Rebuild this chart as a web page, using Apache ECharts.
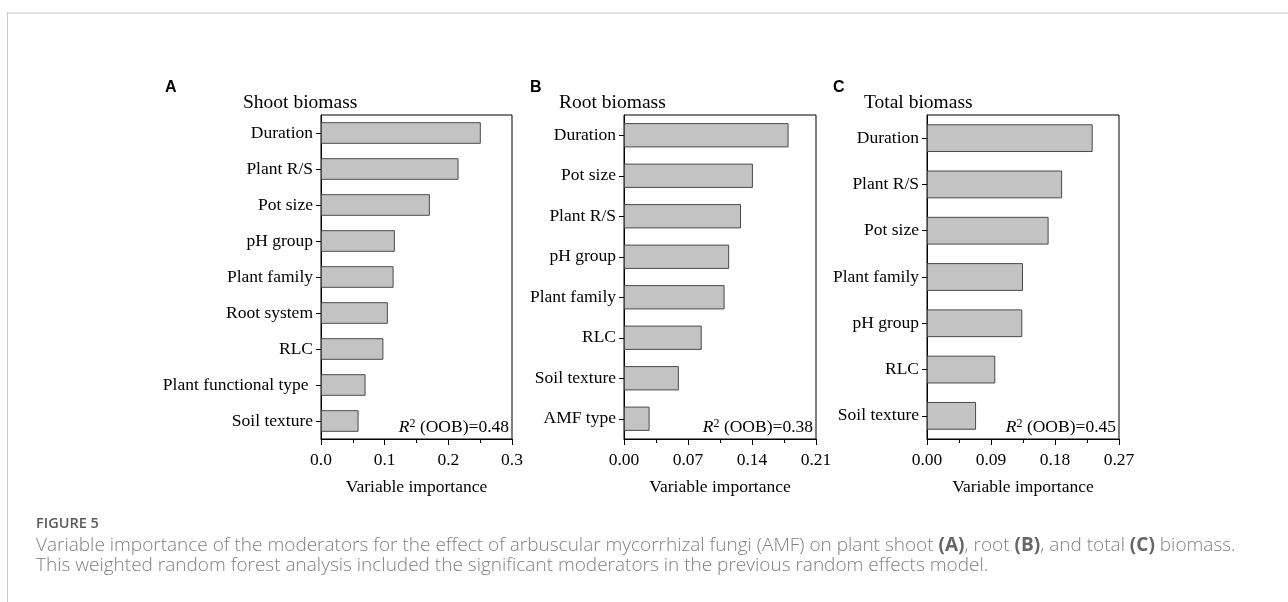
<!DOCTYPE html>
<html>
<head>
<meta charset="utf-8">
<script src="https://cdn.jsdelivr.net/npm/echarts@6/dist/echarts.min.js"></script>
<style>
html,body{margin:0;padding:0;background:#fff;}
#c{width:1288px;height:602px;}
</style>
</head>
<body>
<div id="c"></div>
<script>
// ---- data ----
const shootCats = ["Duration","Plant R/S","Pot size","pH group","Plant family","Root system","RLC","Plant functional type ","Soil texture"];
const shootVals = [0.251,0.216,0.171,0.116,0.114,0.105,0.098,0.070,0.059];
const rootCats = ["Duration","Pot size","Plant R/S","pH group","Plant family","RLC","Soil texture","AMF type"];
const rootVals = [0.180,0.141,0.128,0.115,0.110,0.085,0.060,0.028];
const totalCats = ["Duration","Plant R/S","Pot size","Plant family","pH group","RLC","Soil texture"];
const totalVals = [0.233,0.190,0.171,0.135,0.134,0.096,0.069];
const panelTitles = ["Shoot biomass","Root biomass","Total biomass"];
const panelLetters = ["A","B","C"];
const r2Values = ["0.48","0.38","0.45"];
const xMax = [0.3,0.21,0.27];
const xInterval = [0.1,0.07,0.09];
const xDecimals = [1,2,2];
const xName = "Variable importance";
const figLabel = "FIGURE 5";
const captionLines = [
  "Variable importance of the moderators for the effect of arbuscular mycorrhizal fungi (AMF) on plant shoot ",
  "This weighted random forest analysis included the significant moderators in the previous random effects model."
];

const serif = "'Liberation Serif','DejaVu Serif',serif";
const grids = [
  {left:321, top:115, width:191, height:324},
  {left:624, top:115, width:192, height:324},
  {left:927, top:115, width:192, height:324}
];
const cats = [shootCats, rootCats, totalCats];
const vals = [shootVals, rootVals, totalVals];

const chart = echarts.init(document.getElementById('c'), null, {renderer:'canvas'});

const option = {
  animation:false,
  backgroundColor:'#fff',
  grid: grids.map(g => Object.assign({show:true, borderColor:'#000', borderWidth:1, backgroundColor:'transparent'}, g)),
  xAxis: grids.map((g,i) => ({
    type:'value', gridIndex:i, min:0, max:xMax[i], interval:xInterval[i],
    axisLine:{show:true, lineStyle:{color:'#000', width:1}},
    axisTick:{show:true, length:6, lineStyle:{color:'#000'}},
    minorTick:{show:true, splitNumber:2, length:4, lineStyle:{color:'#000'}},
    splitLine:{show:false},
    axisLabel:{color:'#000', fontFamily:serif, fontSize:17.5, margin:12,
      formatter: v => v.toFixed(xDecimals[i])},
    name:xName, nameLocation:'middle', nameGap:39,
    nameTextStyle:{color:'#000', fontFamily:serif, fontSize:17.5}
  })),
  yAxis: grids.map((g,i) => ({
    type:'category', gridIndex:i, data:cats[i], inverse:true,
    axisLine:{show:true, lineStyle:{color:'#000', width:1}},
    axisTick:{show:true, length:5, alignWithLabel:true, lineStyle:{color:'#000'}},
    axisLabel:{color:'#000', fontFamily:serif, fontSize:17.5, margin:8},
    splitLine:{show:false}
  })),
  series: grids.map((g,i) => ({
    type:'bar', xAxisIndex:i, yAxisIndex:i, data:vals[i], barWidth:'60%',
    itemStyle:{color:'#c3c3c3', borderColor:'#4a4a4a', borderWidth:1}
  })),
  graphic: []
};

const G = option.graphic;
// page frame
G.push({type:'rect', shape:{x:7, y:12, width:1281, height:2}, style:{fill:'#e2e2e2'}, silent:true});
G.push({type:'rect', shape:{x:7, y:12, width:1, height:590}, style:{fill:'#c8c8c8'}, silent:true});

const titleX = [243, 559, 864];
const letterX = [165, 530, 833];
grids.forEach((g,i) => {
  G.push({type:'text', x:titleX[i], y:103, style:{text:panelTitles[i], fontFamily:serif, fontSize:19.5, fill:'#000', textVerticalAlign:'middle'}});
  G.push({type:'text', x:letterX[i], y:88, style:{text:panelLetters[i], fontFamily:"'Liberation Sans',Arial,sans-serif", fontWeight:'bold', fontSize:16, fill:'#000', textVerticalAlign:'middle'}});
  G.push({type:'text', x:g.left + g.width - 3, y:427, style:{
    text:'{i|R}{s|2}{n| (OOB)=' + r2Values[i] + '}',
    textAlign:'right', textVerticalAlign:'middle',
    rich:{
      i:{fontFamily:serif, fontStyle:'italic', fontSize:17.5, fill:'#000', lineHeight:19},
      s:{fontFamily:serif, fontSize:12, fill:'#000', lineHeight:19, verticalAlign:'top', padding:[0,0,6,0]},
      n:{fontFamily:serif, fontSize:17.5, fill:'#000', lineHeight:19}
    }
  }});
});

const sans = "'Open Sans','Noto Sans',sans-serif";
G.push({type:'text', x:36, y:524, style:{text:figLabel, fontFamily:sans, fontWeight:600, fontSize:14.5, fill:'#5a5a5a', textVerticalAlign:'middle'}});
G.push({type:'text', x:36, y:546, style:{
  text: captionLines[0] + '{b|(A)}, root {b|(B)}, and total {b|(C)} biomass.',
  fontFamily:sans, fontSize:19, fill:'#808080', textVerticalAlign:'middle', fontWeight:300,
  rich:{b:{fontFamily:sans, fontSize:19, fontWeight:'bold', fill:'#666'}}
}});
G.push({type:'text', x:36, y:566, style:{text:captionLines[1], fontFamily:sans, fontSize:19, fill:'#808080', textVerticalAlign:'middle', fontWeight:300}});

chart.setOption(option);
</script>
</body>
</html>
